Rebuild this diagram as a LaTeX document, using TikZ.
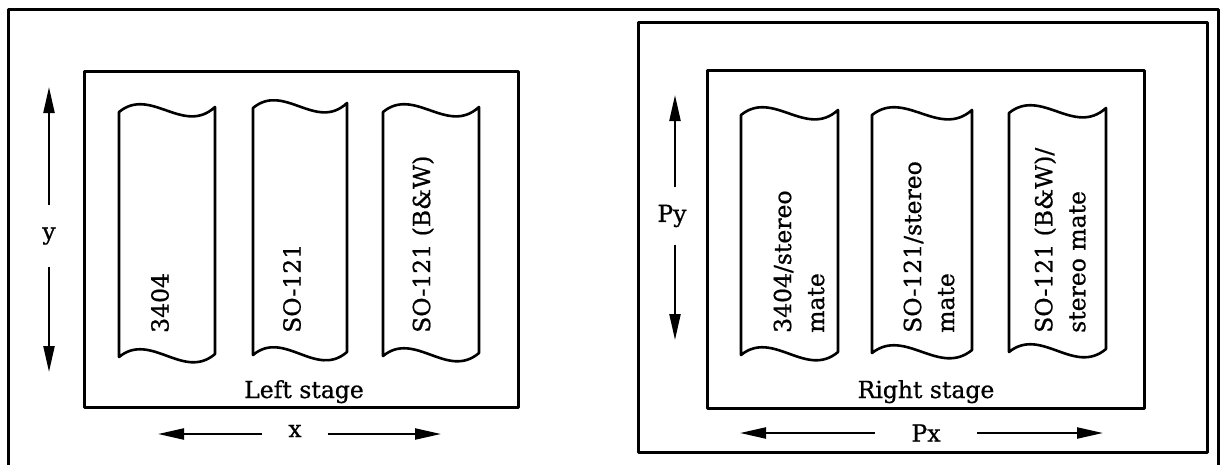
\documentclass[tikz,border=0pt]{standalone}
\usepackage{fontspec}
\setmainfont{DejaVu Serif}[FakeBold=0.8]
\usetikzlibrary{arrows.meta}
\tikzset{
  frame/.style={line width=3pt, line join=round},
  stripline/.style={line width=2.6pt, line join=round},
  dim/.style={line width=2.2pt, -{Triangle[length=26pt,width=11pt]}},
  lbl/.style={font=\fontsize{23.5}{33}\selectfont, inner sep=0pt},
  striptext/.style={lbl, rotate=90, anchor=west, align=left},
}
% film strip with wavy cut ends: left x, top y, width, height
\newcommand\filmstrip[4]{%
  \draw[stripline] (#1,#2)
    .. controls ({#1+0.33*#3},{#2-26}) and ({#1+0.67*#3},{#2+24}) .. ({#1+#3},{#2-5})
    -- ({#1+#3},{#2+#4-3})
    .. controls ({#1+0.67*#3},{#2+#4+24}) and ({#1+0.33*#3},{#2+#4-26}) .. (#1,{#2+#4})
    -- cycle;}
\begin{document}
\begin{tikzpicture}[x=1pt,y=-1pt]
\useasboundingbox (0,0) rectangle (1222,464);

% outer frame (bottom edge lies below the page)
\draw[frame] (8,475) |- (1218,9) -- (1218,475);

% ---------------- left stage ----------------
\draw[frame] (84,71) rectangle (518,407);
\filmstrip{119}{112}{96}{245}
\filmstrip{253}{108}{94}{247}
\filmstrip{383}{112}{96}{244}
\node[striptext] (l1) at (160,333) {3404};
\node[striptext] (l2) at (292,333) {SO-121};
\node[striptext] (l3) at (423,333) {SO-121 (B\&W)};
\node[lbl, anchor=base] (lstage) at (304,398) {Left stage};

\coordinate (ytop) at (49,87);
\coordinate (ybot) at (49,372);
\node[lbl, minimum height=62pt] (ylab) at (49,236) {y};
\draw[dim] (ylab.north) -- (ytop);
\draw[dim] (ylab.south) -- (ybot);

\coordinate (xl) at (158,434);
\coordinate (xr) at (441,434);
\node[lbl, minimum width=65pt] (xlab) at (295,431) {x};
\draw[dim] (xlab.west |- xl) -- (xl);
\draw[dim] (xlab.east |- xr) -- (xr);

% ---------------- right stage ----------------
\draw[frame] (638,22) rectangle (1207,452);
\draw[frame] (707,70) rectangle (1144,408);
\filmstrip{741}{115}{97}{240}
\filmstrip{872}{115}{100}{238}
\filmstrip{1009}{113}{97}{239}
\node[striptext] (r1) at (799,333) {3404/stereo\\mate};
\node[striptext] (r2) at (929,333) {SO-121/stereo\\mate};
\node[striptext] (r3) at (1060,333) {SO-121 (B\&W)/\\stereo mate};
\node[lbl, anchor=base] (rstage) at (926,398) {Right stage};

\coordinate (pytop) at (675,95);
\coordinate (pybot) at (675,340);
\node[lbl, minimum height=57pt] (pylab) at (672,216) {Py};
\draw[dim] (pylab.north -| pytop) -- (pytop);
\draw[dim] (pylab.south -| pybot) -- (pybot);

\coordinate (pxl) at (740,433);
\coordinate (pxr) at (1103,433);
\node[lbl, minimum width=102pt] (pxlab) at (926,433) {Px};
\draw[dim] (pxlab.west |- pxl) -- (pxl);
\draw[dim] (pxlab.east |- pxr) -- (pxr);
\end{tikzpicture}
\end{document}
